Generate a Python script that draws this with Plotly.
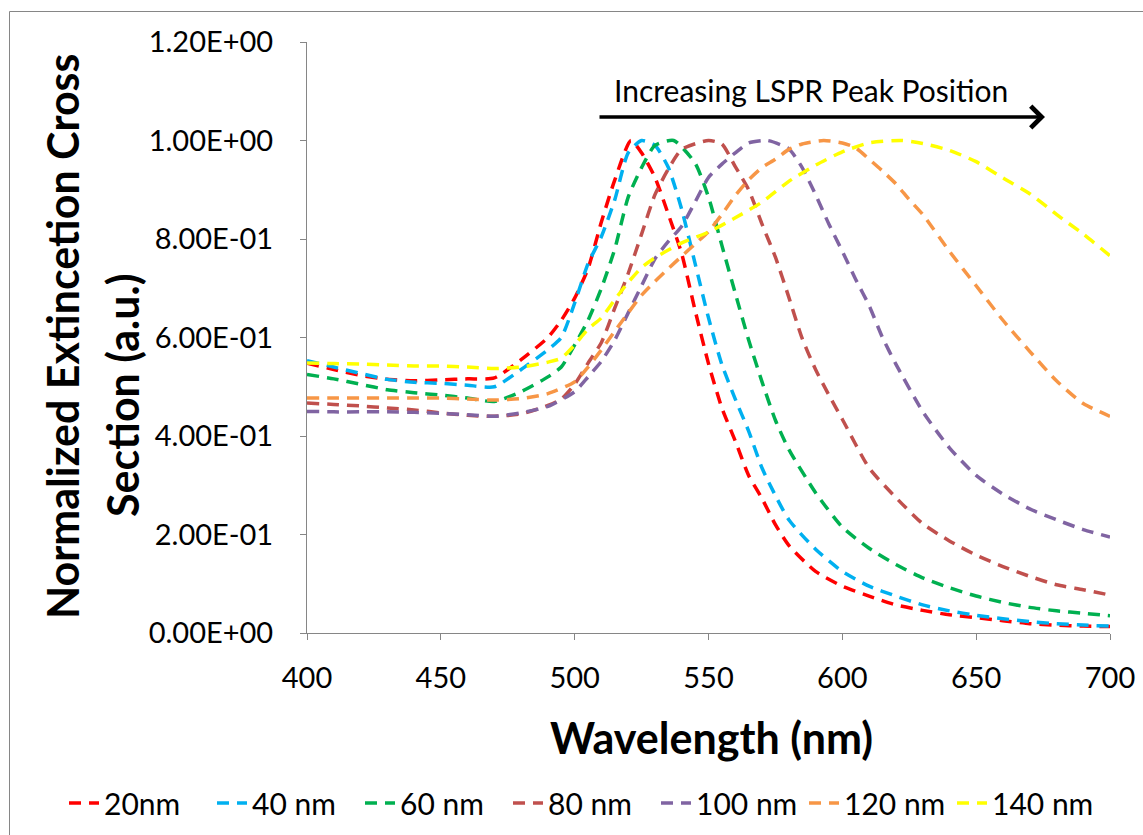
import plotly.graph_objects as go

# ---------------- data ----------------
wl_20 = [400, 410, 420, 430, 440, 450, 460, 470, 480, 490,
         495, 500, 505, 510, 515, 521, 525, 530, 535, 540, 545, 550, 555, 560, 565, 570, 575, 580,
         590, 600, 610, 620, 630, 640, 650, 660, 670, 680, 690, 700]
ext_20 = [0.548, 0.535, 0.523, 0.515, 0.512, 0.514, 0.516, 0.518, 0.555, 0.600,
          0.635, 0.680, 0.740, 0.835, 0.920, 1.000, 0.975, 0.925, 0.850, 0.770, 0.655, 0.547, 0.457, 0.390, 0.320, 0.273, 0.220, 0.178,
          0.125, 0.095, 0.075, 0.057, 0.046, 0.037, 0.031, 0.025, 0.019, 0.016, 0.014, 0.013]

wl_40 = [400, 410, 420, 430, 440, 450, 460, 470, 480, 490,
         495, 500, 505, 510, 515, 520, 525, 530, 535, 540, 545, 550, 555, 560, 565, 570, 575, 580,
         590, 600, 610, 620, 630, 640, 650, 660, 670, 680, 690, 700]
ext_40 = [0.553, 0.540, 0.527, 0.515, 0.509, 0.507, 0.503, 0.500, 0.535, 0.575,
          0.600, 0.670, 0.750, 0.805, 0.880, 0.975, 1.000, 0.990, 0.945, 0.860, 0.750, 0.640, 0.545, 0.475, 0.410, 0.335, 0.279, 0.230,
          0.170, 0.125, 0.095, 0.075, 0.057, 0.045, 0.036, 0.029, 0.023, 0.019, 0.016, 0.014]

wl_60 = [400, 410, 420, 430, 440, 450, 460, 470, 480, 490,
         495, 500, 505, 510, 515, 520, 525, 530, 537, 545, 550, 555, 560, 565, 570, 575, 580,
         590, 600, 610, 620, 630, 640, 650, 660, 670, 680, 690, 700]
ext_60 = [0.525, 0.516, 0.505, 0.494, 0.488, 0.483, 0.477, 0.470, 0.490, 0.520,
          0.540, 0.585, 0.635, 0.700, 0.780, 0.885, 0.945, 0.990, 1.000, 0.954, 0.885, 0.787, 0.690, 0.595, 0.510, 0.432, 0.373,
          0.285, 0.215, 0.172, 0.139, 0.112, 0.092, 0.075, 0.062, 0.052, 0.045, 0.040, 0.035]

wl_80 = [400, 410, 420, 430, 440, 450, 460, 470, 480, 490,
         495, 500, 505, 510, 515, 520, 525, 530, 535, 540, 550, 555, 560, 565, 570, 575, 580, 585, 590, 595,
         600, 610, 620, 630, 640, 650, 660, 670, 680, 690, 700]
ext_80 = [0.467, 0.464, 0.461, 0.457, 0.453, 0.447, 0.442, 0.440, 0.445, 0.462,
          0.475, 0.505, 0.548, 0.590, 0.660, 0.730, 0.810, 0.890, 0.942, 0.982, 1.000, 0.993, 0.947, 0.900, 0.830, 0.763, 0.682, 0.598, 0.535, 0.483,
          0.434, 0.335, 0.275, 0.222, 0.187, 0.158, 0.135, 0.115, 0.098, 0.088, 0.077]

wl_100 = [400, 410, 420, 430, 440, 450, 460, 470, 480, 490,
          500, 505, 510, 515, 520, 525, 530, 535, 540, 545, 550, 555, 560, 565, 572, 580, 585, 590, 595,
          600, 605, 610, 615, 620, 630, 640, 650, 660, 670, 680, 690, 700]
ext_100 = [0.450, 0.449, 0.449, 0.449, 0.448, 0.446, 0.443, 0.440, 0.447, 0.460,
           0.490, 0.520, 0.552, 0.595, 0.650, 0.705, 0.760, 0.795, 0.826, 0.875, 0.925, 0.952, 0.975, 0.995, 1.000, 0.983, 0.945, 0.890, 0.830,
           0.775, 0.718, 0.665, 0.600, 0.546, 0.450, 0.376, 0.320, 0.282, 0.252, 0.230, 0.210, 0.195]

wl_120 = [400, 410, 420, 430, 440, 450, 460, 470, 480, 490,
          500, 505, 510, 515, 520, 525, 530, 535, 540, 545, 550, 555, 560, 565, 570, 575, 580, 585, 593,
          600, 605, 610, 615, 620, 625, 630, 640, 650, 660, 670, 680, 690, 700]
ext_120 = [0.477, 0.477, 0.477, 0.477, 0.477, 0.477, 0.475, 0.473, 0.476, 0.486,
           0.510, 0.540, 0.575, 0.613, 0.650, 0.686, 0.714, 0.740, 0.765, 0.790, 0.815, 0.850, 0.888, 0.920, 0.945, 0.962, 0.982, 0.993, 1.000,
           0.995, 0.985, 0.962, 0.938, 0.912, 0.880, 0.850, 0.775, 0.705, 0.635, 0.572, 0.512, 0.466, 0.440]

wl_140 = [400, 410, 420, 430, 440, 450, 460, 470, 480, 490,
          495, 500, 505, 510, 515, 520, 525, 530, 540, 550, 560, 570, 580, 590, 600, 610, 622,
          630, 640, 650, 660, 670, 680, 690, 700]
ext_140 = [0.548, 0.547, 0.546, 0.544, 0.542, 0.542, 0.540, 0.537, 0.540, 0.550,
           0.558, 0.585, 0.617, 0.640, 0.677, 0.712, 0.742, 0.762, 0.792, 0.814, 0.843, 0.875, 0.917, 0.950, 0.977, 0.995, 1.000,
           0.994, 0.980, 0.957, 0.924, 0.892, 0.850, 0.810, 0.766]

series_names = ["20nm", "40 nm", "60 nm", "80 nm", "100 nm", "120 nm", "140 nm"]
series_x = [wl_20, wl_40, wl_60, wl_80, wl_100, wl_120, wl_140]
series_y = [ext_20, ext_40, ext_60, ext_80, ext_100, ext_120, ext_140]

y_tickvals = [0.0, 0.2, 0.4, 0.6, 0.8, 1.0, 1.2]
y_ticktext = ["0.00E+00", "2.00E-01", "4.00E-01", "6.00E-01", "8.00E-01", "1.00E+00", "1.20E+00"]
x_tickvals = [400, 450, 500, 550, 600, 650, 700]

# ---------------- styles ----------------
colors = ["#FF0000", "#00B0F0", "#00B050", "#C0504D", "#8064A2", "#F79646", "#FFFF00"]
FONT = "Lato"
W, H = 1143, 835
L, R, T, B = 307, 33, 42, 202
PW, PH = W - L - R, H - T - B


def px(xpix):
    return (xpix - L) / PW


def py(ypix):
    return (H - B - ypix) / PH


fig = go.Figure()
for name, xs, ys, c in zip(series_names, series_x, series_y, colors):
    fig.add_trace(go.Scatter(
        x=xs, y=ys, name=name, mode="lines",
        line=dict(color=c, width=3.5, dash="12px,8px", shape="spline", smoothing=0.6),
        hoverinfo="x+y+name",
    ))

axis_gray = "#868686"
fig.update_xaxes(
    range=[400, 700], tickvals=x_tickvals, showgrid=False, zeroline=False,
    showline=True, linecolor=axis_gray, linewidth=1,
    ticks="outside", ticklen=6, tickcolor=axis_gray, tickwidth=1,
    ticklabelstandoff=13,
    tickfont=dict(family=FONT, size=29, color="#000000"),
)
fig.update_yaxes(
    range=[0, 1.2], tickvals=y_tickvals, ticktext=y_ticktext, showgrid=False, zeroline=False,
    showline=True, linecolor=axis_gray, linewidth=1,
    ticks="outside", ticklen=6, tickcolor=axis_gray, tickwidth=1,
    ticklabelstandoff=21,
    tickfont=dict(family=FONT, size=29, color="#000000"),
)

annotations = [
    dict(text="<b>Wavelength (nm)</b>", x=px(711), y=py(737), xref="paper", yref="paper",
         showarrow=False, xanchor="center", yanchor="middle",
         font=dict(family=FONT, size=43, color="#000000")),
    dict(text="<b>Normalized Extincetion Cross</b>", x=px(62), y=py(337), xref="paper", yref="paper",
         showarrow=False, xanchor="center", yanchor="middle", textangle=-90,
         font=dict(family=FONT, size=43, color="#000000")),
    dict(text="<b>Section (a.u.)</b>", x=px(122), y=py(395), xref="paper", yref="paper",
         showarrow=False, xanchor="center", yanchor="middle", textangle=-90,
         font=dict(family=FONT, size=43, color="#000000")),
    dict(text="Increasing LSPR Peak Position", x=px(811), y=py(90), xref="paper", yref="paper",
         showarrow=False, xanchor="center", yanchor="middle",
         font=dict(family=FONT, size=30, color="#000000")),
    dict(text="", x=px(1045), y=py(117), xref="paper", yref="paper",
         showarrow=True, ax=-(1045 - 598), ay=0, axref="pixel", ayref="pixel",
         arrowhead=4, arrowsize=1.2, arrowwidth=3.5, arrowcolor="#000000"),
]

fig.update_layout(
    width=W, height=H,
    margin=dict(l=L, r=R, t=T, b=B, pad=0, autoexpand=False),
    paper_bgcolor="#FFFFFF", plot_bgcolor="#FFFFFF",
    font=dict(family=FONT, size=28, color="#000000"),
    showlegend=True,
    legend=dict(orientation="h", xref="paper", yref="paper",
                x=px(64), y=py(803), xanchor="left", yanchor="middle",
                font=dict(family=FONT, size=30, color="#000000"),
                itemwidth=30, entrywidth=103, entrywidthmode="pixels",
                tracegroupgap=0, bgcolor="rgba(0,0,0,0)"),
    annotations=annotations,
    shapes=[dict(type="rect", xref="paper", yref="paper",
                 x0=px(9.5), x1=px(1160), y0=py(850), y1=py(11.5),
                 line=dict(color=axis_gray, width=1), fillcolor="rgba(0,0,0,0)", layer="below")],
)

fig.write_html("out.html")
